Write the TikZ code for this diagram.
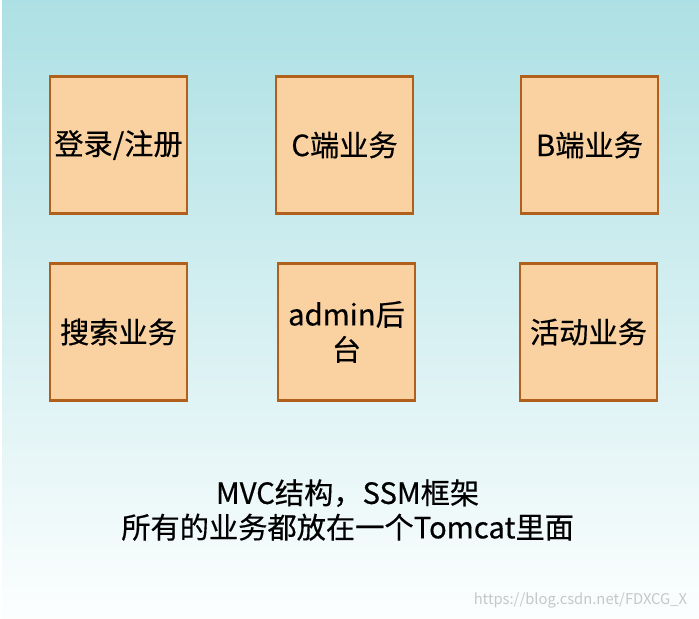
\documentclass[tikz,border=0pt]{standalone}
\usepackage{fontspec}
\newfontfamily\cjk[FakeBold=0.4]{Noto Sans CJK SC}
\newfontfamily\markfont{Noto Sans CJK SC}
\usetikzlibrary{positioning}

\definecolor{bgtop}{HTML}{ADE0E4}
\definecolor{bgbot}{HTML}{FCFEFE}
\definecolor{boxfill}{HTML}{FAD2A2}
\definecolor{boxline}{HTML}{B0601A}

\begin{document}
\begin{tikzpicture}[
        node distance=1.25cm and 2.225cm,
        bizbox/.style={rectangle, draw=boxline, fill=boxfill, line width=1.5pt,
                    minimum width=3.425cm, minimum height=3.425cm,
                    text width=3.3cm, align=center, outer sep=0pt,
                    font=\cjk\fontsize{20.8}{25}\selectfont, inner sep=1pt},
    ]
    \useasboundingbox (0,0) rectangle (17.475,-15.45);
    % 背景渐变
    \shade[top color=bgtop, bottom color=bgbot] (0.05,0) rectangle (17.475,-15.45);

    % 第一行
    \node[bizbox] (login) at (2.9625,-3.625) {登录/注册};
    \node[bizbox, right=of login] (cside) {C端业务};
    \node[bizbox, right=2.7cm of cside] (bside) {B端业务};

    % 第二行
    \node[bizbox, below=of login] (search) {搜索业务};
    \node[bizbox, right=2.275cm of search] (admin) {admin后\\台};
    \node[bizbox, right=2.625cm of admin] (activity) {活动业务};

    % 说明文字
    \node[font=\cjk\fontsize{20.8}{24.5}\selectfont, align=center]
        (note) at (8.69,-12.75) {MVC结构，SSM框架\\所有的业务都放在一个Tomcat里面};

    % 水印
    \node[font=\markfont\fontsize{10.5}{12}\selectfont, text=black!22, anchor=east]
        (mark) at (17.3,-15.0) {https://blog.csdn.net/FDXCG\_X};
\end{tikzpicture}
\end{document}
